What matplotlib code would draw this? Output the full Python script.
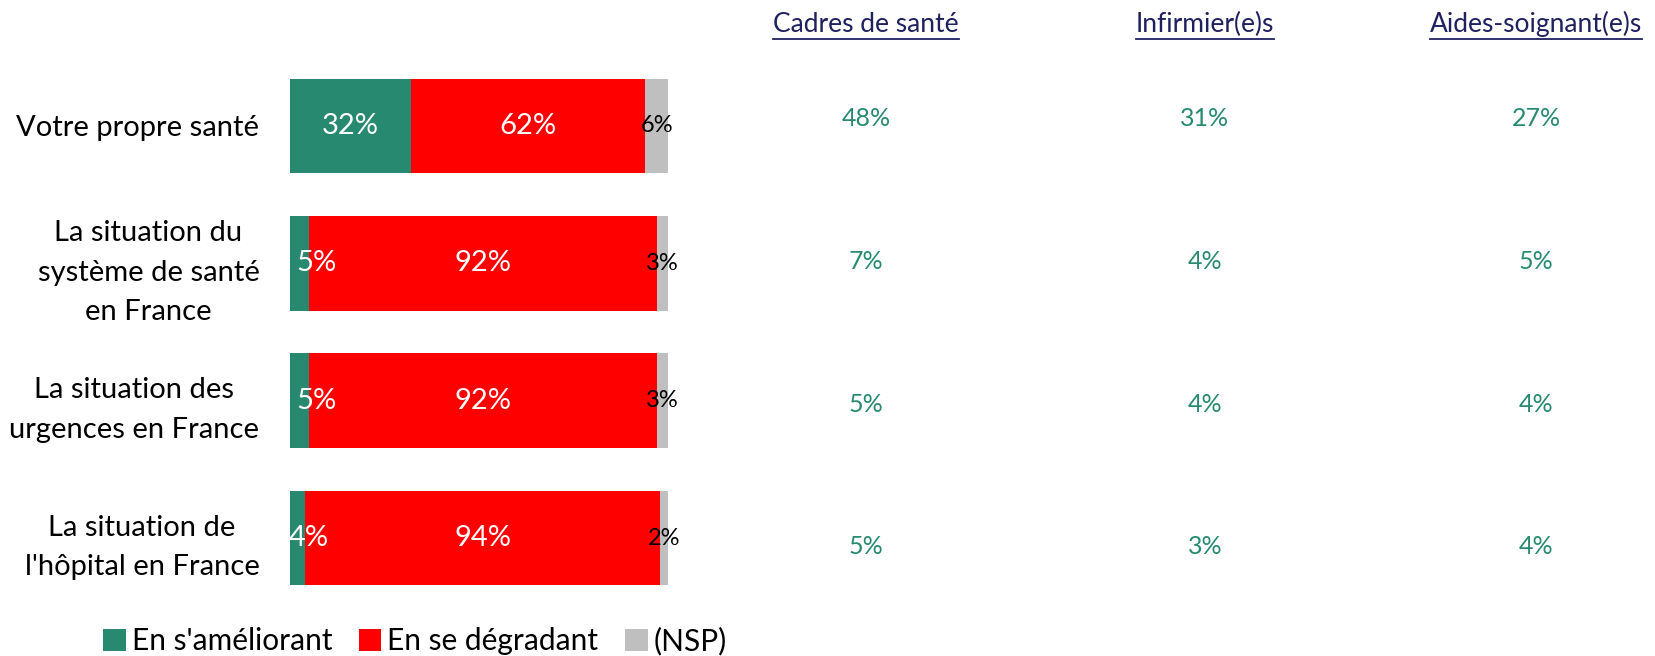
import numpy as np
import matplotlib
matplotlib.use("Agg")
import matplotlib.pyplot as plt

plt.rcParams["font.family"] = ["Lato", "DejaVu Sans"]

# data
categories = ["Votre propre santé",
              "La situation du\nsystème de santé\nen France",
              "La situation des\nurgences en France",
              "La situation de\nl'hôpital en France"]
improving = [32, 5, 5, 4]
degrading = [62, 92, 92, 94]
nsp = [6, 3, 3, 2]
series_names = ["En s'améliorant", "En se dégradant", "(NSP)"]

groups = ["Cadres de santé", "Infirmier(e)s", "Aides-soignant(e)s"]
cadres = [48, 7, 5, 5]
infirmiers = [31, 4, 4, 3]
aides = [27, 5, 4, 4]

GREEN = "#278A70"
RED = "#FF0000"
GREY = "#BFBFBF"
NAVY = "#1F2060"

W, H = 1656, 656
fig = plt.figure(figsize=(W / 100, H / 100), dpi=100)
ax = fig.add_axes([290 / W, 1 - 606.7 / H, 378 / W, 549.4 / H])

y = np.arange(len(categories))
left = np.zeros(len(categories))
bars = []
for vals, col in zip([improving, degrading, nsp], [GREEN, RED, GREY]):
    b = ax.barh(y, vals, left=left, height=0.69, color=col, edgecolor="none")
    bars.append(b)
    left = left + np.array(vals)

# labels inside bars
for i in range(len(categories)):
    g, r, n = improving[i], degrading[i], nsp[i]
    gx = g / 2 if g > 10 else 5 + (g - 4) * 2
    ax.text(gx, y[i], f"{g}%", ha="center", va="center", color="white", fontsize=21)
    ax.text(g + r / 2, y[i], f"{r}%", ha="center", va="center", color="white", fontsize=21)
    ax.text(g + r + n / 2, y[i], f"{n}%", ha="center", va="center", color="black", fontsize=17)

ax.set_xlim(0, 100)
ax.set_ylim(len(categories) - 0.5, -0.5)
ax.set_yticks(y)
ax.set_yticklabels(categories, fontsize=21, multialignment="center", linespacing=1.65)
ax.tick_params(axis="y", length=0, pad=22)
ax.set_xticks([])
for s in ax.spines.values():
    s.set_visible(False)

# right-hand table
col_x = [866, 1205, 1536]
row_y = [118, 261, 404, 547]
for cx, name, vals in zip(col_x, groups, [cadres, infirmiers, aides]):
    t = fig.text(cx / W, 1 - 24 / H, name, ha="center", va="center",
                 color=NAVY, fontsize=19)
    for ry, v in zip(row_y, vals):
        fig.text(cx / W, 1 - ry / H, f"{v}%", ha="center", va="center",
                 color=GREEN, fontsize=18)

# underline headers
fig.canvas.draw()
r = fig.canvas.get_renderer()
for t in fig.texts[::5]:
    bb = t.get_window_extent(renderer=r)
    yl = (bb.y0 - 2) / H
    fig.add_artist(plt.Line2D([bb.x0 / W, bb.x1 / W], [yl, yl], color=NAVY, lw=1.3))

leg = fig.legend(bars, series_names, loc="center", bbox_to_anchor=(415 / W, 1 - 641 / H),
                 ncol=3, frameon=False, fontsize=21.5, handlelength=0.75, handleheight=0.75,
                 handletextpad=0.2, columnspacing=0.9)

fig.savefig("out.png", dpi=100)
